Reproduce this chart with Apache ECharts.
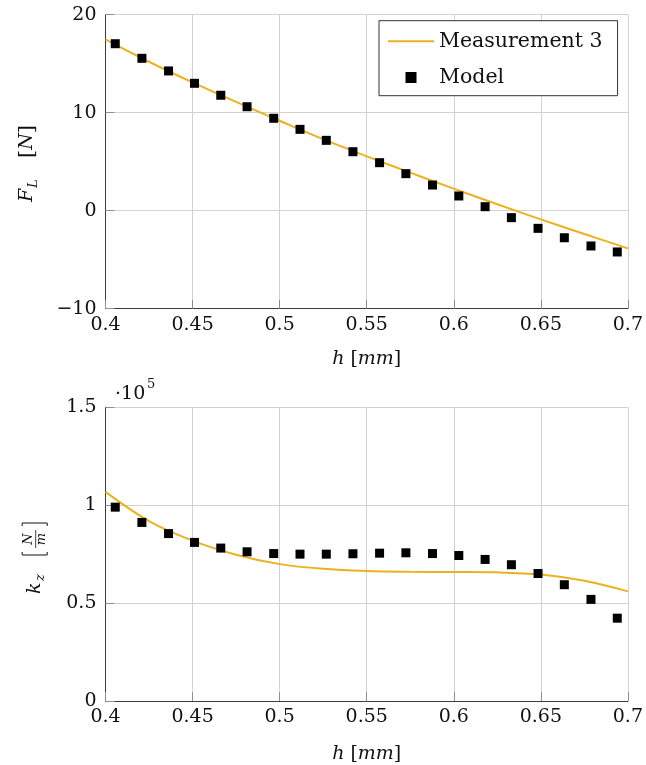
<!DOCTYPE html>
<html>
<head>
<meta charset="utf-8">
<script src="https://cdn.jsdelivr.net/npm/echarts@6/dist/echarts.min.js"></script>
<style>
html,body{margin:0;padding:0;background:#fff;}
#chart{width:646px;height:765px;}
</style>
</head>
<body>
<div id="chart"></div>
<script>
// ---- data ----
const hModel = [0.4056, 0.4209, 0.4362, 0.4511, 0.4662, 0.4813, 0.4966, 0.5117, 0.5268, 0.5421,
                0.5574, 0.5725, 0.5878, 0.6029, 0.6180, 0.6331, 0.6484, 0.6635, 0.6788, 0.6939];
const fModel = [17.04, 15.55, 14.26, 13.0, 11.78, 10.61, 9.43, 8.3, 7.18, 6.02,
                4.9, 3.78, 2.62, 1.5, 0.41, -0.71, -1.8, -2.76, -3.6, -4.21];
// k_z in units of 1e5 N/m
const kModel = [0.990, 0.912, 0.855, 0.810, 0.781, 0.762, 0.753, 0.750, 0.750, 0.752,
                0.755, 0.757, 0.753, 0.743, 0.723, 0.696, 0.651, 0.594, 0.519, 0.423];

const hMeas = [0.4, 0.425, 0.45, 0.475, 0.5, 0.525, 0.55, 0.575, 0.6, 0.625, 0.65, 0.675, 0.7];
const fMeas = [17.49, 15.20, 13.09, 11.10, 9.18, 7.30, 5.55, 3.88, 2.25, 0.66, -0.88, -2.38, -3.84];
const kMeas = [1.068, 0.919, 0.819, 0.747, 0.699, 0.675, 0.664, 0.660, 0.659, 0.657, 0.646, 0.614, 0.560];

const seriesNames = ['Measurement 3', 'Model'];
const xTickStep = 0.05;
const fTickStep = 10;
const kTickStep = 0.5;

// ---- chart ----
const FONT = 'DejaVu Serif';
const LINE_COLOR = '#EDB120';
const GRID_COLOR = '#d2d2d2';
const AXIS_COLOR = '#3c3c3c';

const zip = (xs, ys) => xs.map((x, i) => [x, ys[i]]);

const chart = echarts.init(document.getElementById('chart'), null, {renderer: 'canvas'});

function xAxis(gridIndex, gap) {
  return {
    type: 'value', gridIndex, min: 0.4, max: 0.7, interval: xTickStep,
    name: '{i|h} [{i|mm}]', nameLocation: 'middle', nameGap: gap,
    nameTextStyle: {fontFamily: FONT, fontSize: 19, color: '#111',
      rich: {i: {fontFamily: FONT, fontStyle: 'italic', fontSize: 19, color: '#111'}}},
    axisLine: {onZero: false, lineStyle: {color: AXIS_COLOR, width: 1}},
    axisTick: {inside: true, length: 9, lineStyle: {color: '#909090'}},
    axisLabel: {fontFamily: FONT, fontSize: 19, color: '#111', margin: 7,
      formatter: v => String(+v.toFixed(2))},
    splitLine: {show: true, lineStyle: {color: GRID_COLOR, width: 1}}
  };
}
function yAxis(gridIndex, min, max, interval) {
  return {
    type: 'value', gridIndex, min, max, interval,
    axisLine: {show: true, onZero: false, lineStyle: {color: AXIS_COLOR, width: 1}},
    axisTick: {show: true, inside: true, length: 9, lineStyle: {color: '#909090'}},
    axisLabel: {fontFamily: FONT, fontSize: 19, color: '#111', margin: 9,
      formatter: v => String(+v.toFixed(2)).replace('-', '\u2212')},
    splitLine: {show: true, lineStyle: {color: GRID_COLOR, width: 1}}
  };
}

// legend icons: invisible corner points fix the box so the visible part keeps its shape
const ICON_LINE = 'path://M0,0L0,0.01M0,10L0,10.01M0,4L46,4L46,6L0,6Z';
const ICON_SQUARE = 'path://M0,0L0,0.01M46,10L46,10.01M17.5,0.5L28.5,0.5L28.5,11.5L17.5,11.5Z';

const option = {
  animation: false,
  backgroundColor: '#fff',
  grid: [
    {left: 105.5, top: 14.7, width: 523.2, height: 294},
    {left: 105.5, top: 407.3, width: 523.2, height: 293.7}
  ],
  xAxis: [xAxis(0, 41), xAxis(1, 44)],
  yAxis: [yAxis(0, -10, 20, fTickStep), yAxis(1, 0, 1.5, kTickStep)],
  legend: {
    orient: 'vertical', left: 379, top: 20.7,
    padding: [10, 15, 8, 9], itemGap: 15,
    itemWidth: 46, itemHeight: 12,
    borderColor: '#333', borderWidth: 1, backgroundColor: '#fff',
    textStyle: {fontFamily: FONT, fontSize: 20.5, color: '#111', lineHeight: 20},
    data: [
      {name: seriesNames[0], icon: ICON_LINE, itemStyle: {color: LINE_COLOR, borderWidth: 0}},
      {name: seriesNames[1], icon: ICON_SQUARE, itemStyle: {color: '#000', borderWidth: 0, opacity: 1}}
    ]
  },
  series: [
    {name: seriesNames[0], type: 'line', xAxisIndex: 0, yAxisIndex: 0, data: zip(hMeas, fMeas),
     smooth: 0.35, symbol: 'none', showSymbol: false, lineStyle: {color: LINE_COLOR, width: 2}, itemStyle: {color: LINE_COLOR}, z: 3},
    {name: seriesNames[1], type: 'scatter', xAxisIndex: 0, yAxisIndex: 0, data: zip(hModel, fModel),
     symbol: 'rect', symbolSize: 9, itemStyle: {color: '#000', opacity: 1}, z: 4},
    {name: seriesNames[0], type: 'line', xAxisIndex: 1, yAxisIndex: 1, data: zip(hMeas, kMeas),
     smooth: 0.35, symbol: 'none', showSymbol: false, lineStyle: {color: LINE_COLOR, width: 2}, itemStyle: {color: LINE_COLOR}, z: 3},
    {name: seriesNames[1], type: 'scatter', xAxisIndex: 1, yAxisIndex: 1, data: zip(hModel, kModel),
     symbol: 'rect', symbolSize: 9, itemStyle: {color: '#000', opacity: 1}, z: 4}
  ],
  graphic: [
    // F_L [N]
    {type: 'group', x: 33, y: 166, rotation: Math.PI / 2, children: [
      {type: 'text', x: -36, y: -5.7, style: {text: 'F', font: 'italic 19px "DejaVu Serif"', fill: '#111', verticalAlign: 'middle', align: 'left'}},
      {type: 'text', x: -22, y: 0.5, style: {text: 'L', font: 'italic 13px "DejaVu Serif"', fill: '#111', verticalAlign: 'middle', align: 'left'}},
      {type: 'text', x: 8, y: -5.7, style: {text: '[{i|N}]', font: '21px "DejaVu Serif"', fill: '#111', verticalAlign: 'middle', align: 'left',
        rich: {i: {fontFamily: FONT, fontStyle: 'italic', fontSize: 19, fill: '#111'}}}}
    ]},
    // k_z [N/m]
    {type: 'group', x: 35.7, y: 557, rotation: Math.PI / 2, children: [
      {type: 'text', x: -37, y: -0.7, style: {text: 'k', font: 'italic 19px "DejaVu Serif"', fill: '#111', verticalAlign: 'middle', align: 'left'}},
      {type: 'text', x: -24, y: 5.4, style: {text: 'z', font: 'italic 13px "DejaVu Serif"', fill: '#111', verticalAlign: 'middle', align: 'left'}},
      {type: 'polyline', shape: {points: [[5, -13.5], [2, -13.5], [2, 11.5], [5, 11.5]]}, style: {stroke: '#111', lineWidth: 1, fill: null}},
      {type: 'polyline', shape: {points: [[31, -13.5], [34, -13.5], [34, 11.5], [31, 11.5]]}, style: {stroke: '#111', lineWidth: 1, fill: null}},
      {type: 'text', x: 18, y: -7, style: {text: 'N', font: 'italic 13px "DejaVu Serif"', fill: '#111', verticalAlign: 'middle', align: 'center'}},
      {type: 'line', shape: {x1: 9, y1: 0, x2: 27, y2: 0}, style: {stroke: '#111', lineWidth: 0.8}},
      {type: 'text', x: 18, y: 5.5, style: {text: 'm', font: 'italic 13px "DejaVu Serif"', fill: '#111', verticalAlign: 'middle', align: 'center'}}
    ]},
    // ·10^5 multiplier
    {type: 'text', left: 115, top: 385, style: {text: '\u00b710', font: '19px "DejaVu Serif"', fill: '#111'}},
    {type: 'text', left: 147, top: 378, style: {text: '5', font: '13px "DejaVu Serif"', fill: '#111'}}
  ]
};
chart.setOption(option);
</script>
</body>
</html>
